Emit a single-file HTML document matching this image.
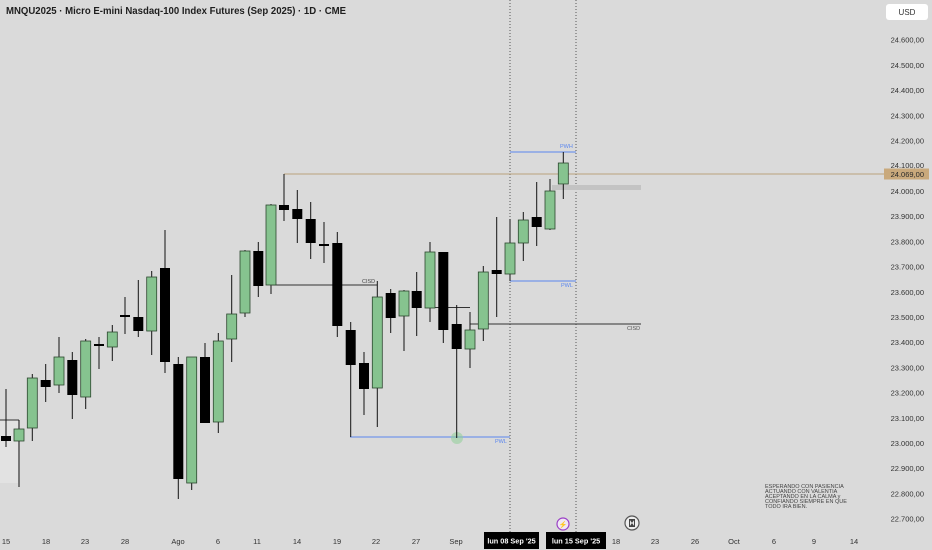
<!DOCTYPE html>
<html>
<head>
<meta charset="utf-8">
<style>
html,body{margin:0;padding:0;background:#dadada;}
svg{display:block;}
text{font-family:"Liberation Sans",sans-serif;}
</style>
</head>
<body>
<svg width="932" height="550" viewBox="0 0 932 550" xmlns="http://www.w3.org/2000/svg">
<rect x="0" y="0" width="932" height="550" fill="#dadada"/>

<!-- title -->
<text x="6" y="14" font-size="10" font-weight="bold" fill="#1e1e1e" textLength="340" lengthAdjust="spacingAndGlyphs">MNQU2025 · Micro E-mini Nasdaq-100 Index Futures (Sep 2025) · 1D · CME</text>

<!-- left lighter box -->
<rect x="0" y="420" width="18" height="63" fill="#e2e2e2"/>
<line x1="0" y1="420" x2="19" y2="420" stroke="#333" stroke-width="1"/>

<!-- dotted verticals -->
<line x1="510" y1="0" x2="510" y2="532" stroke="#555" stroke-width="1" stroke-dasharray="1,2"/>
<line x1="576" y1="0" x2="576" y2="532" stroke="#555" stroke-width="1" stroke-dasharray="1,2"/>

<!-- price line -->
<line x1="284" y1="174" x2="884" y2="174" stroke="#b9a37c" stroke-width="1"/>
<!-- grey band -->
<rect x="552" y="185" width="89" height="5" fill="#c3c3c3"/>

<!-- CISD lines -->
<line x1="272" y1="285" x2="377" y2="285" stroke="#333" stroke-width="1"/>
<text x="362" y="283" font-size="5.5" fill="#444">CISD</text>
<line x1="432" y1="307.5" x2="470" y2="307.5" stroke="#333" stroke-width="1"/>
<line x1="470" y1="324" x2="641" y2="324" stroke="#333" stroke-width="1"/>
<text x="627" y="330" font-size="5.5" fill="#555">CISD</text>

<!-- blue levels -->
<line x1="510" y1="152" x2="576" y2="152" stroke="#5b86ee" stroke-width="1"/>
<text x="560" y="148" font-size="5.5" fill="#5b86ee">PWH</text>
<line x1="510" y1="281" x2="576" y2="281" stroke="#5b86ee" stroke-width="1"/>
<text x="561" y="287" font-size="5.5" fill="#5b86ee">PWL</text>
<line x1="350" y1="437" x2="510" y2="437" stroke="#5b86ee" stroke-width="1"/>
<text x="495" y="443" font-size="5.5" fill="#5b86ee">PWL</text>

<!-- green circle -->
<circle cx="457" cy="438" r="6" fill="#8fcf98" opacity="0.55"/>

<!-- candles -->
<g stroke="#111" stroke-width="1">
<line x1="6" y1="389" x2="6" y2="447"/>
<line x1="19" y1="420" x2="19" y2="487"/>
<line x1="32.3" y1="374" x2="32.3" y2="441"/>
<line x1="45.7" y1="364" x2="45.7" y2="402"/>
<line x1="59" y1="337" x2="59" y2="393"/>
<line x1="72.3" y1="352" x2="72.3" y2="419"/>
<line x1="85.7" y1="339" x2="85.7" y2="409"/>
<line x1="99" y1="337" x2="99" y2="369"/>
<line x1="112.3" y1="325" x2="112.3" y2="361"/>
<line x1="125" y1="297" x2="125" y2="334"/>
<line x1="138.3" y1="280" x2="138.3" y2="337"/>
<line x1="151.7" y1="271" x2="151.7" y2="355"/>
<line x1="165" y1="230" x2="165" y2="373"/>
<line x1="178.3" y1="357" x2="178.3" y2="499"/>
<line x1="191.7" y1="357" x2="191.7" y2="490"/>
<line x1="205" y1="343" x2="205" y2="423"/>
<line x1="218.3" y1="333" x2="218.3" y2="433"/>
<line x1="231.7" y1="275" x2="231.7" y2="362"/>
<line x1="245" y1="250" x2="245" y2="317"/>
<line x1="258.3" y1="242" x2="258.3" y2="297"/>
<line x1="271" y1="204" x2="271" y2="294"/>
<line x1="284" y1="174" x2="284" y2="221"/>
<line x1="297.3" y1="190" x2="297.3" y2="243"/>
<line x1="310.7" y1="202" x2="310.7" y2="259"/>
<line x1="324" y1="222" x2="324" y2="263"/>
<line x1="337.3" y1="232" x2="337.3" y2="337"/>
<line x1="350.7" y1="322" x2="350.7" y2="437"/>
<line x1="364" y1="352" x2="364" y2="415"/>
<line x1="377.3" y1="281" x2="377.3" y2="427"/>
<line x1="390.7" y1="289" x2="390.7" y2="333"/>
<line x1="404" y1="290" x2="404" y2="351"/>
<line x1="416.7" y1="272" x2="416.7" y2="336"/>
<line x1="430" y1="242" x2="430" y2="322"/>
<line x1="443.3" y1="252" x2="443.3" y2="343"/>
<line x1="456.7" y1="305" x2="456.7" y2="438"/>
<line x1="470" y1="312" x2="470" y2="368"/>
<line x1="483.3" y1="266" x2="483.3" y2="341"/>
<line x1="496.7" y1="217" x2="496.7" y2="317"/>
<line x1="510" y1="219" x2="510" y2="281"/>
<line x1="523.3" y1="212" x2="523.3" y2="261"/>
<line x1="536.7" y1="182" x2="536.7" y2="246"/>
<line x1="550" y1="179" x2="550" y2="230"/>
<line x1="563.3" y1="152" x2="563.3" y2="199"/>
</g>
<g fill="#000">
<rect x="1" y="436" width="10" height="5"/>
<rect x="40.7" y="380" width="10" height="7"/>
<rect x="67.3" y="360" width="10" height="35"/>
<rect x="94" y="344" width="10" height="2"/>
<rect x="120" y="315" width="10" height="2"/>
<rect x="133.3" y="317" width="10" height="14"/>
<rect x="160" y="268" width="10" height="94"/>
<rect x="173.3" y="364" width="10" height="115"/>
<rect x="200" y="357" width="10" height="66"/>
<rect x="253.3" y="251" width="10" height="35"/>
<rect x="279" y="205" width="10" height="5"/>
<rect x="292.3" y="209" width="10" height="10"/>
<rect x="305.7" y="219" width="10" height="24"/>
<rect x="319" y="244" width="10" height="2"/>
<rect x="332.3" y="243" width="10" height="83"/>
<rect x="345.7" y="330" width="10" height="35"/>
<rect x="359" y="363" width="10" height="26"/>
<rect x="385.7" y="293" width="10" height="25"/>
<rect x="411.7" y="291" width="10" height="17"/>
<rect x="438.3" y="252" width="10" height="78"/>
<rect x="451.7" y="324" width="10" height="25"/>
<rect x="491.7" y="270" width="10" height="4"/>
<rect x="531.7" y="217" width="10" height="10"/>
</g>
<g fill="#86c38f" stroke="#2c472e" stroke-width="0.8">
<rect x="14" y="429" width="10" height="12"/>
<rect x="27.3" y="378" width="10" height="50"/>
<rect x="54" y="357" width="10" height="28"/>
<rect x="80.7" y="341" width="10" height="56"/>
<rect x="107.3" y="332" width="10" height="15"/>
<rect x="146.7" y="277" width="10" height="54"/>
<rect x="186.7" y="357" width="10" height="126"/>
<rect x="213.3" y="341" width="10" height="81"/>
<rect x="226.7" y="314" width="10" height="25"/>
<rect x="240" y="251" width="10" height="62"/>
<rect x="266" y="205" width="10" height="80"/>
<rect x="372.3" y="297" width="10" height="91"/>
<rect x="399" y="291" width="10" height="25"/>
<rect x="425" y="252" width="10" height="56"/>
<rect x="465" y="330" width="10" height="19"/>
<rect x="478.3" y="272" width="10" height="57"/>
<rect x="505" y="243" width="10" height="31"/>
<rect x="518.3" y="220" width="10" height="23"/>
<rect x="545" y="191" width="10" height="38"/>
<rect x="558.3" y="163" width="10" height="21"/>
</g>

<!-- annotation text -->
<g font-size="5.5" fill="#444">
<text x="765" y="488">ESPERANDO CON PASIENCIA</text>
<text x="765" y="493">ACTUANDO  CON VALENTIA</text>
<text x="765" y="498">ACEPTANDO EN LA CALMA y</text>
<text x="765" y="503">CONFIANDO SIEMPRE EN QUE</text>
<text x="765" y="508">TODO IRA BIEN.</text>
</g>

<!-- right axis -->
<rect x="886" y="4" width="42" height="16" rx="3" fill="#ffffff"/>
<text x="907" y="15" font-size="8" fill="#333" text-anchor="middle">USD</text>
<g font-size="7.5" fill="#333" text-anchor="end">
<text x="924" y="42.7">24.600,00</text>
<text x="924" y="67.9">24.500,00</text>
<text x="924" y="93.1">24.400,00</text>
<text x="924" y="118.3">24.300,00</text>
<text x="924" y="143.5">24.200,00</text>
<text x="924" y="168">24.100,00</text>
<text x="924" y="193.9">24.000,00</text>
<text x="924" y="219.2">23.900,00</text>
<text x="924" y="244.4">23.800,00</text>
<text x="924" y="269.6">23.700,00</text>
<text x="924" y="294.8">23.600,00</text>
<text x="924" y="320">23.500,00</text>
<text x="924" y="345.2">23.400,00</text>
<text x="924" y="370.4">23.300,00</text>
<text x="924" y="395.6">23.200,00</text>
<text x="924" y="420.8">23.100,00</text>
<text x="924" y="446">23.000,00</text>
<text x="924" y="471.2">22.900,00</text>
<text x="924" y="496.4">22.800,00</text>
<text x="924" y="521.6">22.700,00</text>
</g>
<rect x="884" y="168.5" width="45" height="11" fill="#c9a97c"/>
<text x="924" y="176.8" font-size="7.5" fill="#2a2a2a" text-anchor="end">24.069,00</text>

<!-- bottom axis -->
<g font-size="7.5" fill="#333" text-anchor="middle">
<text x="6" y="544">15</text>
<text x="46" y="544">18</text>
<text x="85" y="544">23</text>
<text x="125" y="544">28</text>
<text x="178" y="544">Ago</text>
<text x="218" y="544">6</text>
<text x="257" y="544">11</text>
<text x="297" y="544">14</text>
<text x="337" y="544">19</text>
<text x="376" y="544">22</text>
<text x="416" y="544">27</text>
<text x="456" y="544">Sep</text>
<text x="616" y="544">18</text>
<text x="655" y="544">23</text>
<text x="695" y="544">26</text>
<text x="734" y="544">Oct</text>
<text x="774" y="544">6</text>
<text x="814" y="544">9</text>
<text x="854" y="544">14</text>
</g>
<rect x="484" y="532" width="55" height="17" fill="#000"/>
<text x="511.5" y="543.5" font-size="7.3" font-weight="bold" fill="#fff" text-anchor="middle">lun 08 Sep '25</text>
<rect x="546" y="532" width="60" height="17" fill="#000"/>
<text x="576" y="543.5" font-size="7.3" font-weight="bold" fill="#fff" text-anchor="middle">lun 15 Sep '25</text>

<!-- icons -->
<circle cx="563" cy="524" r="6" fill="#f0e8f4" stroke="#9a3fc6" stroke-width="1.2"/>
<text x="563" y="527" font-size="7" fill="#9a3fc6" text-anchor="middle">⚡</text>
<circle cx="632" cy="523" r="7" fill="#eeeeee" stroke="#555" stroke-width="1.2"/>
<rect x="629.5" y="519.5" width="5" height="7" fill="none" stroke="#444" stroke-width="1"/>
<path d="M629.5 519.5 L634.5 519.5 L632 523 Z M629.5 526.5 L634.5 526.5 L632 523 Z" fill="#444"/>
</svg>
</body>
</html>
